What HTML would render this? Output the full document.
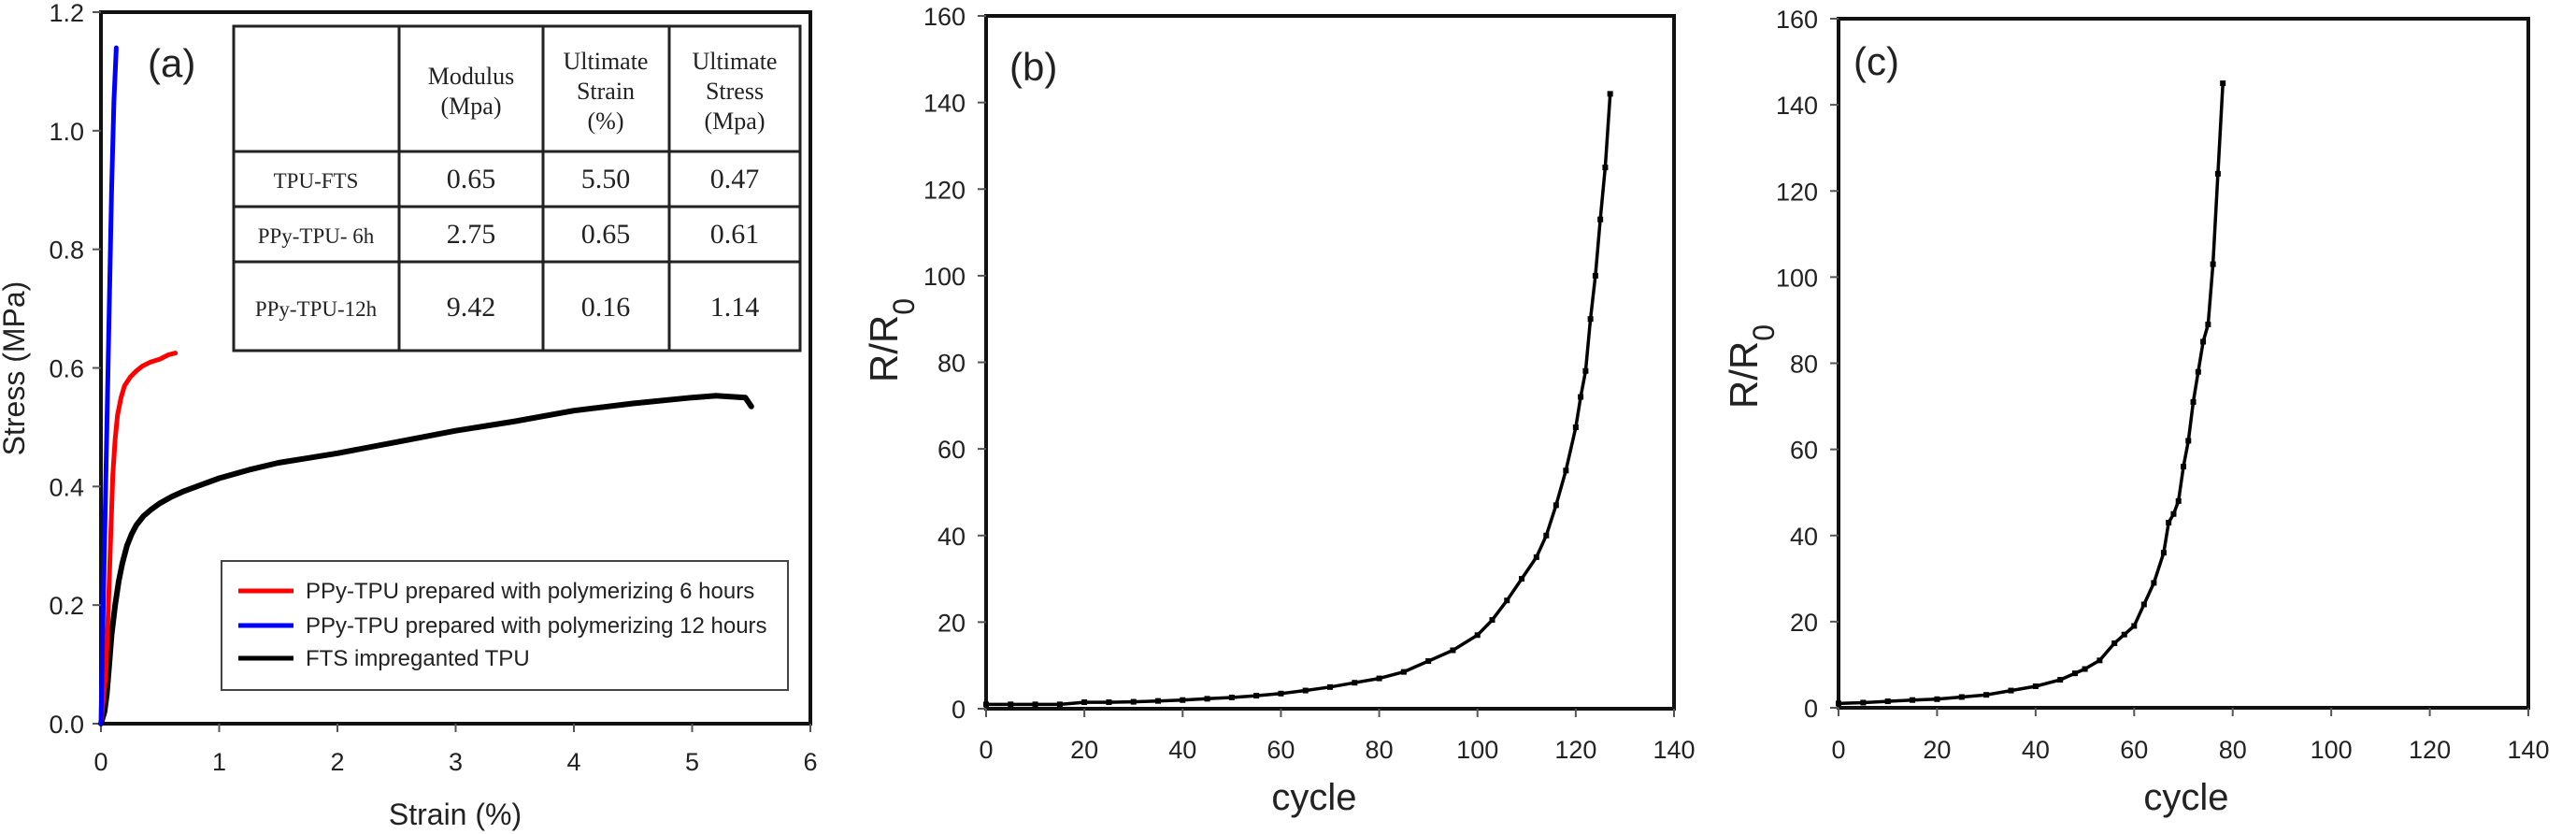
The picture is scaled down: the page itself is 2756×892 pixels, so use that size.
<!DOCTYPE html>
<html><head><meta charset="utf-8"><style>
html,body{margin:0;padding:0;background:#fff;}
svg{display:block;font-family:"Liberation Sans",sans-serif;}
.tk{font-size:27px;fill:#222;}
.serif{font-family:"Liberation Serif",serif;fill:#222;}
</style></head><body>
<svg id="fig" width="2756" height="892" viewBox="0 0 2756 892" xmlns="http://www.w3.org/2000/svg">
<rect width="2756" height="892" fill="#fff"/>
<g id="pa"></g>
<g id="pb"></g>
<g id="pc"></g>
</svg>
<script>
// Panel (a) data
const blackStrain=[0,0.03,0.05,0.07,0.09,0.12,0.15,0.18,0.22,0.26,0.3,0.36,0.43,0.5,0.6,0.7,0.85,1.0,1.25,1.5,1.75,2.0,2.5,3.0,3.5,4.0,4.5,5.0,5.2,5.45,5.5];
const blackStress=[0,0.02,0.05,0.1,0.15,0.2,0.24,0.27,0.3,0.32,0.335,0.35,0.362,0.372,0.383,0.392,0.403,0.414,0.428,0.44,0.448,0.456,0.475,0.494,0.51,0.528,0.54,0.55,0.553,0.55,0.535];
const redStrain=[0,0.04,0.06,0.08,0.1,0.12,0.14,0.17,0.2,0.25,0.3,0.35,0.42,0.5,0.57,0.63];
const redStress=[0,0.08,0.18,0.3,0.42,0.48,0.52,0.55,0.57,0.585,0.595,0.603,0.61,0.615,0.622,0.625];
const blueStrain=[0,0.03,0.06,0.09,0.11,0.13];
const blueStress=[0,0.3,0.6,0.9,1.05,1.14];
const aXTicks=[0,1,2,3,4,5,6];
const aYTicks=[0,0.2,0.4,0.6,0.8,1.0,1.2];
// Panel (b) data
const bCycle=[0,5,10,15,20,25,30,35,40,45,50,55,60,65,70,75,80,85,90,95,100,103,106,109,112,114,116,118,120,121,122,123,124,125,126,127];
const bRatio=[1,1,1,1,1.5,1.5,1.6,1.8,2,2.3,2.6,3,3.5,4.2,5,6,7,8.5,11,13.5,17,20.5,25,30,35,40,47,55,65,72,78,90,100,113,125,142];
// Panel (c) data
const cCycle=[0,5,10,15,20,25,30,35,40,45,48,50,53,56,58,60,62,64,66,67,68,69,70,71,72,73,74,75,76,77,78];
const cRatio=[1,1.2,1.5,1.8,2,2.5,3,4,5,6.5,8,9,11,15,17,19,24,29,36,43,45,48,56,62,71,78,85,89,103,124,145];
const rXTicks=[0,20,40,60,80,100,120,140];
const rYTicks=[0,20,40,60,80,100,120,140,160];

const NS='http://www.w3.org/2000/svg';
function mk(parent,tag,attrs,text){const e=document.createElementNS(NS,tag);for(const k in attrs)e.setAttribute(k,attrs[k]);if(text!==undefined)e.textContent=text;parent.appendChild(e);return e;}

function axes(g,L,T,R,B,xmin,xmax,ymin,ymax,xt,yt,xfmt,yfmt,ylabRight,xlabY){
  const sx=v=>L+(v-xmin)/(xmax-xmin)*(R-L);
  const sy=v=>B-(v-ymin)/(ymax-ymin)*(B-T);
  const fr=mk(g,'rect',{x:L,y:T,width:R-L,height:B-T,fill:'none',stroke:'#111','stroke-width':4});
  
  
  xt.forEach(v=>{
    const l=mk(g,'line',{x1:sx(v),x2:sx(v),y1:B,y2:B+9,stroke:'#555','stroke-width':2});
    
    
    const t=mk(g,'text',{x:sx(v),y:xlabY,'text-anchor':'middle',class:'tk'},xfmt(v));
    
    
  });
  yt.forEach(v=>{
    const l=mk(g,'line',{x1:L-9,x2:L,y1:sy(v),y2:sy(v),stroke:'#555','stroke-width':2});
    
    
    const t=mk(g,'text',{x:ylabRight,y:sy(v)+10,'text-anchor':'end',class:'tk'},yfmt(v));
    
    
  });
  return {sx,sy};
}
function line(g,xs,ys,s,color,w,name){
  const d=xs.map((x,i)=>(i?'L':'M')+s.sx(x).toFixed(1)+','+s.sy(ys[i]).toFixed(1)).join(' ');
  const p=mk(g,'path',{d,fill:'none',stroke:color,'stroke-width':w,'stroke-linejoin':'round','stroke-linecap':'round'});
  
  
}
function markers(g,xs,ys,s,name){
  xs.forEach((x,i)=>{
    const c=mk(g,'rect',{x:s.sx(x)-3,y:s.sy(ys[i])-3,width:6,height:6,fill:'#000'});
    
    
  });
}

// Panel a
const ga=document.getElementById('pa');
const sa=axes(ga,108,13,867,774,0,6,0,1.2,aXTicks,aYTicks,v=>String(v),v=>v.toFixed(1),90,824);
line(ga,blackStrain,blackStress,sa,'#000',6,'series-fts-tpu');
line(ga,redStrain,redStress,sa,'#f00',5,'series-ppy-tpu-6h');
line(ga,blueStrain,blueStress,sa,'#00f',5,'series-ppy-tpu-12h');
let t=mk(ga,'text',{x:487,y:882,'text-anchor':'middle','font-size':32,fill:'#222'},'Strain (%)');

t=mk(ga,'text',{x:0,y:0,'text-anchor':'middle','font-size':32,fill:'#222',transform:'translate(26,394) rotate(-90)'},'Stress (MPa)');

t=mk(ga,'text',{x:158,y:82,'font-size':42,fill:'#222'},'(a)');

// table
const tb=mk(ga,'g',{});

mk(tb,'rect',{x:250,y:28,width:606,height:347,fill:'#fff',stroke:'#222','stroke-width':3});
[427,581,716].forEach(x=>mk(tb,'line',{x1:x,x2:x,y1:28,y2:375,stroke:'#222','stroke-width':3}));
[162,221,280].forEach(y=>mk(tb,'line',{x1:250,x2:856,y1:y,y2:y,stroke:'#222','stroke-width':3}));
const colC=[338,504,648,786];
[['Modulus','(Mpa)'],['Ultimate','Strain','(%)'],['Ultimate','Stress','(Mpa)']].forEach((lines,ci)=>{
  const y0=lines.length===2?90:74;
  lines.forEach((s,li)=>{const e=mk(tb,'text',{x:colC[ci+1],y:y0+li*32,'text-anchor':'middle','font-size':26,class:'serif'},s);
    });
});
const rows=[['TPU-FTS','0.65','5.50','0.47',201],['PPy-TPU- 6h','2.75','0.65','0.61',260],['PPy-TPU-12h','9.42','0.16','1.14',338]];
rows.forEach(r=>{
  r.slice(0,4).forEach((s,ci)=>{const e=mk(tb,'text',{x:colC[ci],y:r[4],'text-anchor':'middle','font-size':ci?30:23,class:'serif'},s);
    });
});
// legend
const lg=mk(ga,'g',{});

mk(lg,'rect',{x:237,y:600,width:606,height:138,fill:'#fff',stroke:'#444','stroke-width':2});
[['#f00','PPy-TPU prepared with polymerizing 6 hours',632],['#00f','PPy-TPU prepared with polymerizing 12 hours',669],['#000','FTS impreganted TPU',704]].forEach(e=>{
  const it=mk(lg,'g',{});
  
  mk(it,'line',{x1:255,x2:314,y1:e[2],y2:e[2],stroke:e[0],'stroke-width':5});
  mk(it,'text',{x:327,y:e[2]+8,'font-size':24,fill:'#222'},e[1]);
});

// Panel b
const gb=document.getElementById('pb');
const sb=axes(gb,1055,17,1791,758,0,140,0,160,rXTicks,rYTicks,String,String,1033,811);
line(gb,bCycle,bRatio,sb,'#000',3.5,'series-b');
markers(gb,bCycle,bRatio,sb,'point-b');
t=mk(gb,'text',{x:1406,y:866,'text-anchor':'middle','font-size':40,fill:'#222'},'cycle');

t=mk(gb,'text',{x:0,y:0,'text-anchor':'middle','font-size':42,fill:'#222',transform:'translate(960,364) rotate(-90)'});
t.innerHTML='R/R<tspan baseline-shift="sub" font-size="32">0</tspan>';

t=mk(gb,'text',{x:1080,y:86,'font-size':42,fill:'#222'},'(b)');


// Panel c
const gc=document.getElementById('pc');
const sc=axes(gc,1967,20,2705,757,0,140,0,160,rXTicks,rYTicks,String,String,1945,811);
line(gc,cCycle,cRatio,sc,'#000',3.5,'series-c');
markers(gc,cCycle,cRatio,sc,'point-c');
t=mk(gc,'text',{x:2339,y:866,'text-anchor':'middle','font-size':40,fill:'#222'},'cycle');

t=mk(gc,'text',{x:0,y:0,'text-anchor':'middle','font-size':42,fill:'#222',transform:'translate(1880,392) rotate(-90)'});
t.innerHTML='R/R<tspan baseline-shift="sub" font-size="32">0</tspan>';

t=mk(gc,'text',{x:1983,y:80,'font-size':42,fill:'#222'},'(c)');

</script>
</body></html>
